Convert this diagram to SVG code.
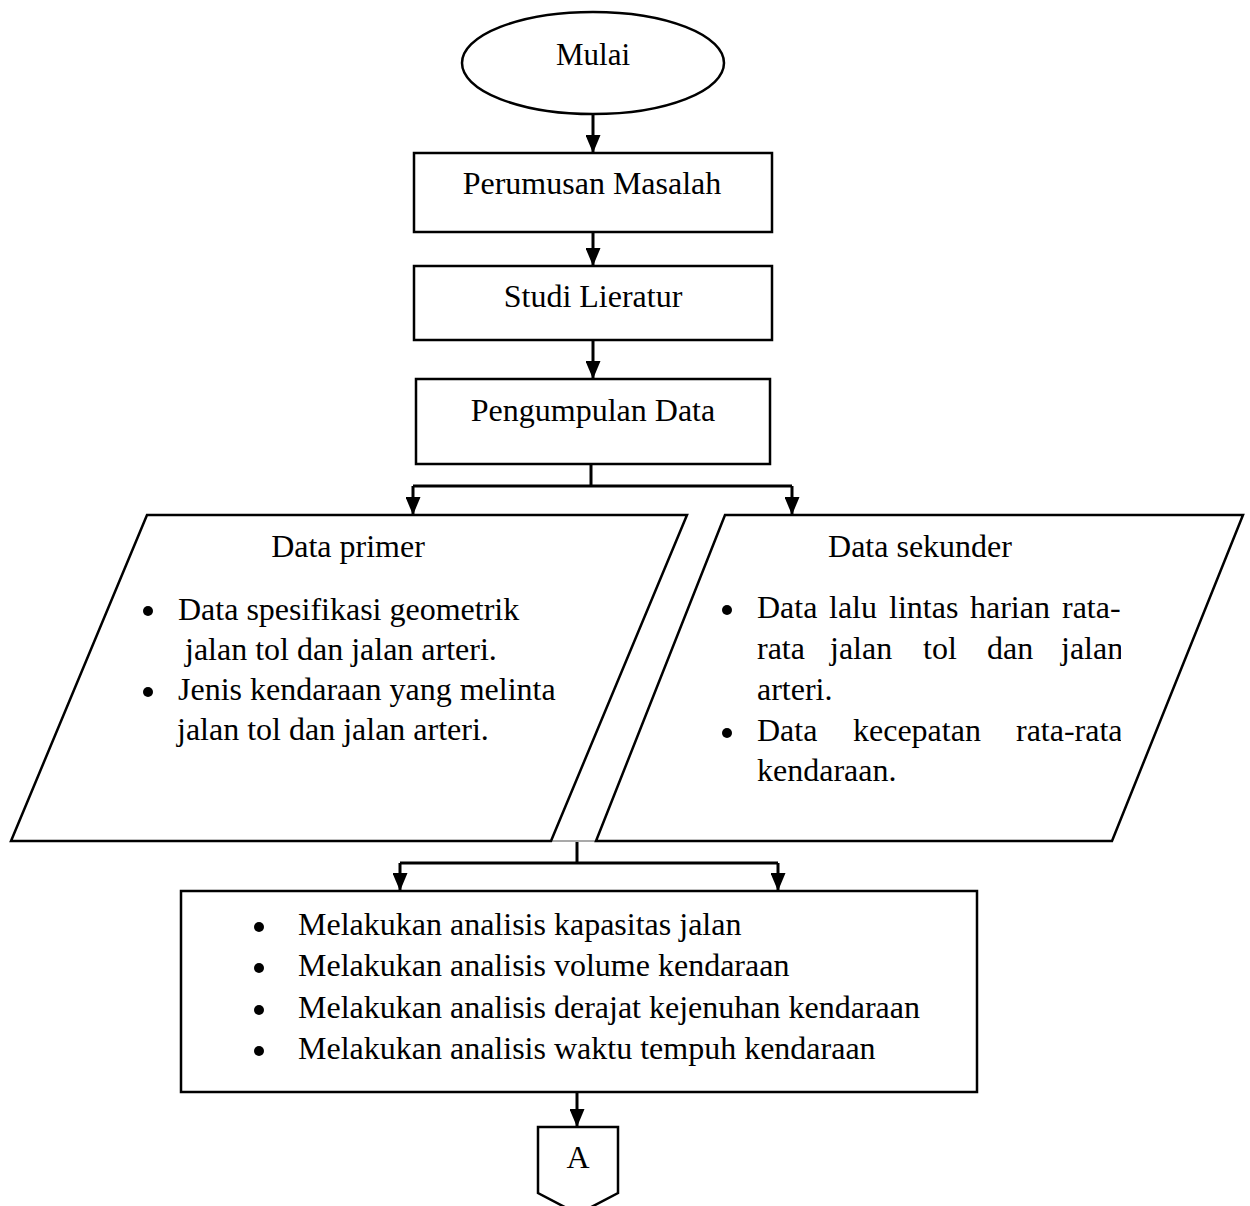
<svg xmlns="http://www.w3.org/2000/svg" width="1250" height="1206" viewBox="0 0 1250 1206">
<style>
  .shape { fill: #ffffff; stroke: #000000; stroke-width: 2.5; }
  .conn { fill: none; stroke: #000000; stroke-width: 3; }
  .t { font-family: "Liberation Serif", "Times New Roman", serif; font-size: 32px; fill: #000000; }
  .c { text-anchor: middle; }
  .b { fill: #000000; }
</style>
<defs>
  <marker id="arrow" viewBox="0 0 18 15" refX="18" refY="7.5" markerWidth="18" markerHeight="15" markerUnits="userSpaceOnUse" orient="auto">
    <path d="M0,0 L18,7.5 L0,15 Z" fill="#000000"/>
  </marker>
  <clipPath id="clipRight">
    <rect x="700" y="560" width="421" height="240"/>
  </clipPath>
</defs>
<rect x="0" y="0" width="1250" height="1206" fill="#ffffff"/>

<g id="connectors">
  <line class="conn" x1="593" y1="115" x2="593" y2="153" marker-end="url(#arrow)"/>
  <line class="conn" x1="593" y1="232" x2="593" y2="266" marker-end="url(#arrow)"/>
  <line class="conn" x1="593" y1="340" x2="593" y2="379" marker-end="url(#arrow)"/>
  <polyline class="conn" points="591,464 591,486"/>
  <polyline class="conn" points="413,486 792,486"/>
  <line class="conn" x1="413" y1="486" x2="413" y2="515" marker-end="url(#arrow)"/>
  <line class="conn" x1="792" y1="486" x2="792" y2="515" marker-end="url(#arrow)"/>
  <line x1="551" y1="841" x2="596" y2="841" stroke="#555555" stroke-width="1.2"/>
  <polyline class="conn" points="577,842 577,863"/>
  <polyline class="conn" points="400,863 778,863"/>
  <line class="conn" x1="400" y1="863" x2="400" y2="891" marker-end="url(#arrow)"/>
  <line class="conn" x1="778" y1="863" x2="778" y2="891" marker-end="url(#arrow)"/>
  <line class="conn" x1="577" y1="1092" x2="577" y2="1127" marker-end="url(#arrow)"/>
</g>

<g id="mulai">
  <ellipse class="shape" cx="593" cy="63" rx="131" ry="51" stroke-width="2"/>
  <text class="t c" x="593" y="65" style="font-size:31px">Mulai</text>
</g>

<g id="perumusan">
  <rect class="shape" x="414" y="153" width="358" height="79"/>
  <text class="t c" x="592" y="194">Perumusan Masalah</text>
</g>

<g id="studi">
  <rect class="shape" x="414" y="266" width="358" height="74"/>
  <text class="t c" x="593" y="307">Studi Lieratur</text>
</g>

<g id="pengumpulan">
  <rect class="shape" x="416" y="379" width="354" height="85"/>
  <text class="t c" x="593" y="421">Pengumpulan Data</text>
</g>

<g id="data-primer">
  <polygon class="shape" points="147,515 687,515 551,841 11,841"/>
  <text class="t c" x="348" y="557">Data primer</text>
  <circle class="b" cx="148" cy="611" r="5"/>
  <text class="t" x="178" y="620">Data spesifikasi geometrik</text>
  <text class="t" x="185" y="660">jalan tol dan jalan arteri.</text>
  <circle class="b" cx="148" cy="692" r="5"/>
  <text class="t" x="178" y="700">Jenis kendaraan yang melinta</text>
  <text class="t" x="177" y="740">jalan tol dan jalan arteri.</text>
</g>

<g id="data-sekunder">
  <polygon class="shape" points="725,515 1243,515 1112,841 596,841"/>
  <text class="t c" x="920" y="557">Data sekunder</text>
  <circle class="b" cx="727" cy="610" r="5"/>
  <g clip-path="url(#clipRight)">
    <text class="t" y="618"><tspan x="757">Data</tspan><tspan x="829">lalu</tspan><tspan x="889">lintas</tspan><tspan x="970">harian</tspan><tspan x="1062">rata-</tspan></text>
    <text class="t" y="659"><tspan x="757">rata</tspan><tspan x="830">jalan</tspan><tspan x="923">tol</tspan><tspan x="987">dan</tspan><tspan x="1061">jalan</tspan></text>
    <text class="t" x="757" y="700">arteri.</text>
    <text class="t" y="741"><tspan x="757">Data</tspan><tspan x="853">kecepatan</tspan><tspan x="1016">rata-rata</tspan></text>
    <text class="t" x="757" y="781">kendaraan.</text>
  </g>
  <circle class="b" cx="727" cy="733" r="5"/>
</g>

<g id="analisis">
  <rect class="shape" x="181" y="891" width="796" height="201"/>
  <circle class="b" cx="259" cy="927" r="5"/>
  <text class="t" x="298" y="935">Melakukan analisis kapasitas jalan</text>
  <circle class="b" cx="259" cy="968" r="5"/>
  <text class="t" x="298" y="976">Melakukan analisis volume kendaraan</text>
  <circle class="b" cx="259" cy="1010" r="5"/>
  <text class="t" x="298" y="1018">Melakukan analisis derajat kejenuhan kendaraan</text>
  <circle class="b" cx="259" cy="1051" r="5"/>
  <text class="t" x="298" y="1059">Melakukan analisis waktu tempuh kendaraan</text>
</g>

<g id="connector-a">
  <path class="shape" d="M538,1127 L618,1127 L618,1193 L578,1214 L538,1193 Z" stroke-width="2"/>
  <text class="t c" x="578" y="1168">A</text>
</g>
</svg>
